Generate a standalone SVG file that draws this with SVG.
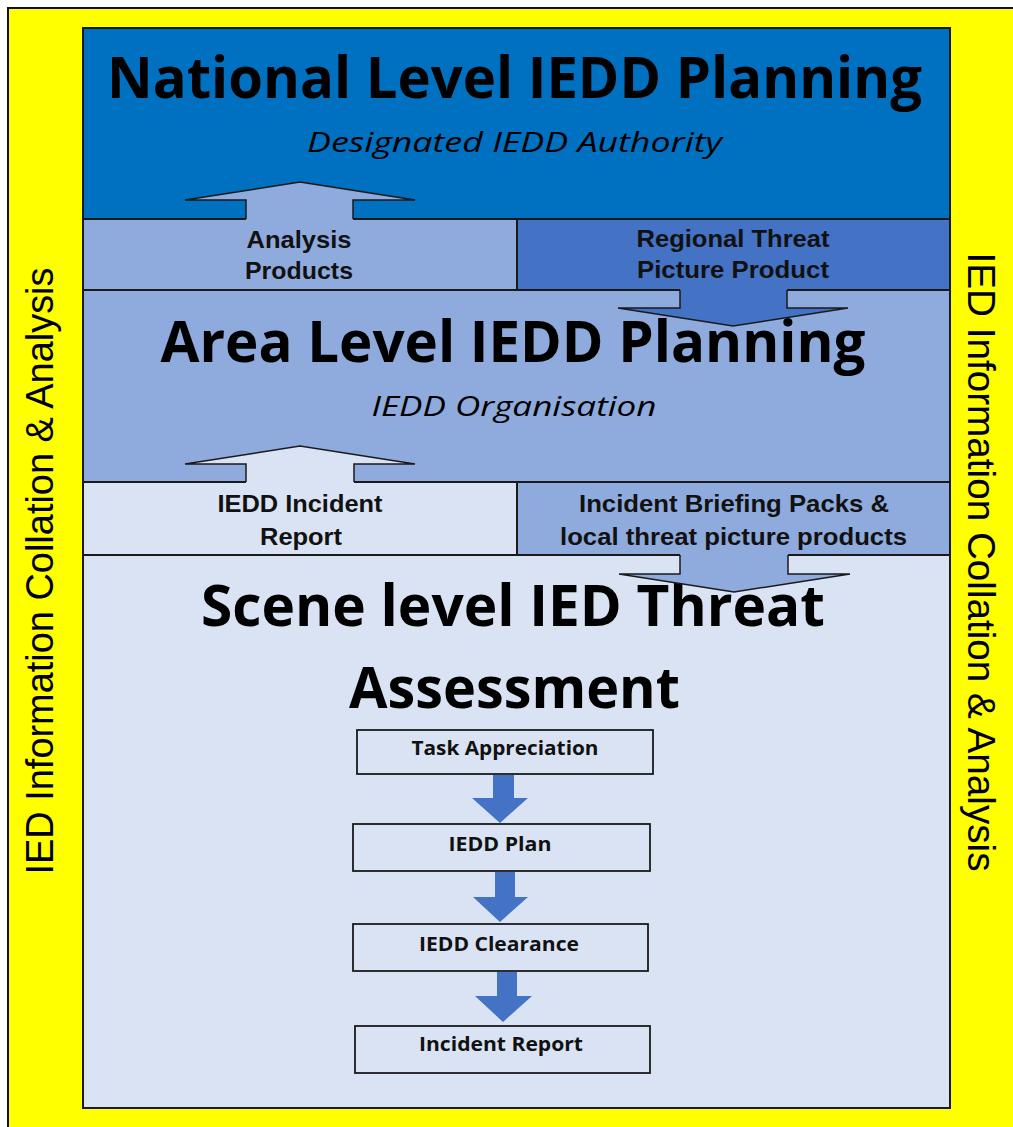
<svg xmlns="http://www.w3.org/2000/svg" width="1013" height="1127" viewBox="0 0 1013 1127">
<style>
.panel{stroke:#1a1a1a;stroke-width:2}
.title{font-family:"Open Sans","Noto Sans",sans-serif;font-weight:bold;font-size:57px;fill:#000;text-anchor:middle}
.sub{font-family:"Open Sans","Noto Sans",sans-serif;font-style:italic;font-size:28px;fill:#000;text-anchor:middle}
.lbl{font-family:"Liberation Sans",Arial,sans-serif;font-weight:bold;font-size:24px;fill:#111;text-anchor:middle}
.step{font-family:"Open Sans","Noto Sans",sans-serif;font-weight:bold;font-size:20px;fill:#111;text-anchor:middle}
.side{font-family:"Liberation Sans",Arial,sans-serif;font-size:38px;fill:#000;text-anchor:middle}
.box{fill:none;stroke:#1a1a1a;stroke-width:1.8}
.aout{fill:none;stroke:#1a1a1a;stroke-width:1.5;stroke-linejoin:miter}
.flow{fill:#4472C4}
</style>
<rect x="0" y="0" width="1013" height="1127" fill="#ffffff"/>
<rect x="8" y="8" width="1020" height="1130" fill="#FFFF00" stroke="#111" stroke-width="2"/>

<g id="side-left">
<text class="side" transform="translate(53,571) rotate(-90)" textLength="607" lengthAdjust="spacingAndGlyphs">IED Information Collation &amp; Analysis</text>
</g>
<g id="side-right">
<text class="side" transform="translate(968,562) rotate(90)" textLength="619" lengthAdjust="spacingAndGlyphs">IED Information Collation &amp; Analysis</text>
</g>

<g id="national">
<rect class="panel" x="83" y="28" width="867" height="191" fill="#0070C0"/>
<text class="title" x="514.5" y="98" textLength="815" lengthAdjust="spacingAndGlyphs">National Level IEDD Planning</text>
<text class="sub" x="514.5" y="152" textLength="415" lengthAdjust="spacingAndGlyphs">Designated IEDD Authority</text>
</g>

<g id="scene">
<rect class="panel" x="83" y="555" width="867" height="553" fill="#DAE3F3"/>
<text class="title" x="513" y="626" textLength="624" lengthAdjust="spacingAndGlyphs">Scene level IED Threat</text>
<text class="title" x="514.5" y="708" textLength="331" lengthAdjust="spacingAndGlyphs">Assessment</text>
</g>

<g id="area">
<rect class="panel" x="83" y="290" width="867" height="192" fill="#8FAADC"/>
<text class="title" x="513" y="362" textLength="705" lengthAdjust="spacingAndGlyphs">Area Level IEDD Planning</text>
<text class="sub" x="514" y="416" textLength="285" lengthAdjust="spacingAndGlyphs">IEDD Organisation</text>
</g>

<g id="analysis-products">
<rect class="panel" x="83" y="219" width="434" height="71" fill="#8FAADC"/>
<text class="lbl" x="299" y="248" textLength="105" lengthAdjust="spacingAndGlyphs">Analysis</text>
<text class="lbl" x="299" y="279" textLength="108" lengthAdjust="spacingAndGlyphs">Products</text>
</g>

<g id="regional-threat">
<rect class="panel" x="517" y="219" width="433" height="71" fill="#4472C4"/>
<text class="lbl" x="733" y="247" textLength="193" lengthAdjust="spacingAndGlyphs">Regional Threat</text>
<text class="lbl" x="733" y="278" textLength="192" lengthAdjust="spacingAndGlyphs">Picture Product</text>
</g>

<g id="iedd-incident-report">
<rect class="panel" x="83" y="482" width="434" height="73" fill="#DAE3F3"/>
<text class="lbl" x="300" y="512" textLength="165" lengthAdjust="spacingAndGlyphs">IEDD Incident</text>
<text class="lbl" x="301" y="545" textLength="82" lengthAdjust="spacingAndGlyphs">Report</text>
</g>

<g id="incident-briefing">
<rect class="panel" x="517" y="482" width="433" height="73" fill="#8FAADC"/>
<text class="lbl" x="734" y="512" textLength="310" lengthAdjust="spacingAndGlyphs">Incident Briefing Packs &amp;</text>
<text class="lbl" x="733.5" y="545" textLength="347" lengthAdjust="spacingAndGlyphs">local threat picture products</text>
</g>

<g id="task-appreciation">
<rect class="box" x="357" y="730" width="296" height="44"/>
<text class="step" x="505" y="755" textLength="187" lengthAdjust="spacingAndGlyphs">Task Appreciation</text>
</g>
<g id="iedd-plan">
<rect class="box" x="353" y="824" width="297" height="47"/>
<text class="step" x="500" y="851" textLength="103" lengthAdjust="spacingAndGlyphs">IEDD Plan</text>
</g>
<g id="iedd-clearance">
<rect class="box" x="353" y="924" width="295" height="47"/>
<text class="step" x="499" y="951" textLength="160" lengthAdjust="spacingAndGlyphs">IEDD Clearance</text>
</g>
<g id="incident-report">
<rect class="box" x="355" y="1026" width="295" height="47"/>
<text class="step" x="501" y="1051" textLength="164" lengthAdjust="spacingAndGlyphs">Incident Report</text>
</g>

<g id="connectors">
<!-- Analysis products up arrow -->
<polygon points="246,221 246,200 185,200 300,182 415,200 353,200 353,221" fill="#8FAADC"/>
<polyline class="aout" points="246,219 246,200 185,200 300,182 415,200 353,200 353,219"/>
<!-- Regional threat down arrow -->
<polygon points="680,288 680,308 618,308 733,326 848,308 787,308 787,288" fill="#4472C4"/>
<polyline class="aout" points="680,290 680,308 618,308 733,326 848,308 787,308 787,290"/>
<!-- IEDD incident report up arrow -->
<polygon points="246,484 246,464 185,464 300,446 415,464 354,464 354,484" fill="#DAE3F3"/>
<polyline class="aout" points="246,482 246,464 185,464 300,446 415,464 354,464 354,482"/>
<!-- Incident briefing down arrow -->
<polygon points="680,553 680,574 619,574 734,592 850,574 788,574 788,553" fill="#8FAADC"/>
<polyline class="aout" points="680,555 680,574 619,574 734,592 850,574 788,574 788,555"/>
<!-- flow arrows -->
<polygon class="flow" points="493,775 514,775 514,798 528,798 500,823 472,798 493,798"/>
<polygon class="flow" points="495,872 515,872 515,897 528,897 500,922 473,897 495,897"/>
<polygon class="flow" points="497,972 517,972 517,996 532,996 503,1022 475,996 497,996"/>
</g>
</svg>
